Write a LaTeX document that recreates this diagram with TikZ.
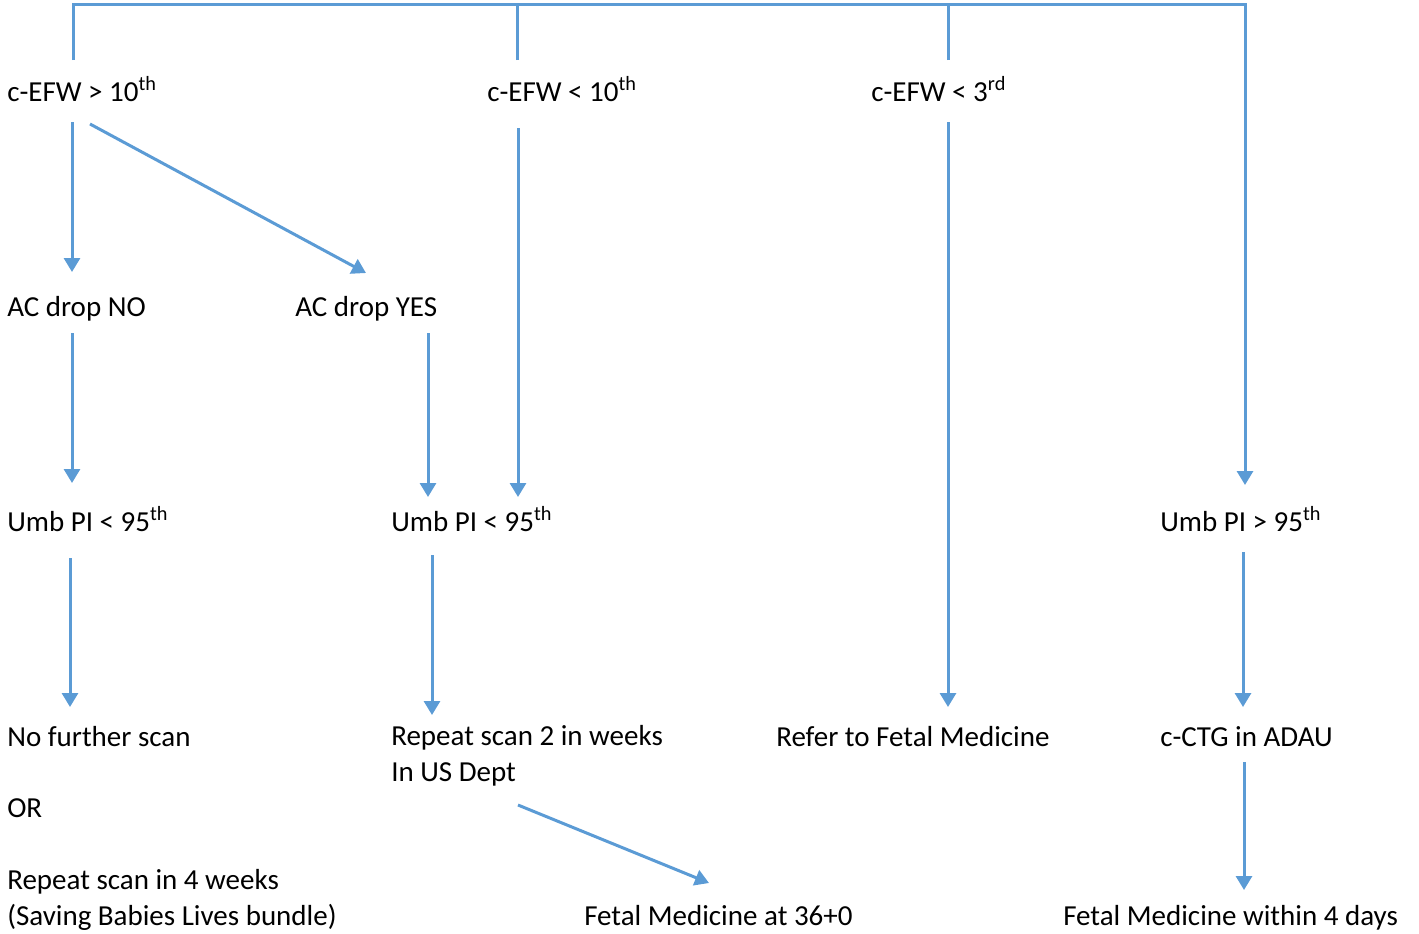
\documentclass[tikz,border=0pt]{standalone}
\usepackage{fontspec}
\setmainfont{Carlito}
\usetikzlibrary{arrows.meta,calc}
\definecolor{flowblue}{RGB}{91,155,213}
\begin{document}
\begin{tikzpicture}[x=0.75pt,y=0.75pt,yscale=-1,xscale=1,
  lbl/.style={anchor=base west,inner sep=0pt,align=left,font=\fontsize{21.75}{26.7}\selectfont},
  line/.style={draw=flowblue,line width=2.25pt},
  arr/.style={line,-{Triangle[width=12pt,length=10.5pt]}}]
\useasboundingbox (0,0) rectangle (1419,933);

% Text Nodes
\node[lbl] (efwA) at (7,101) {c-EFW > 10\textsuperscript{th}};
\node[lbl] (efwB) at (487,101) {c-EFW < 10\textsuperscript{th}};
\node[lbl] (efwC) at (871,101) {c-EFW < 3\textsuperscript{rd}};
\node[lbl] (acno) at (7,316) {AC drop NO};
\node[lbl] (acyes) at (295,316) {AC drop YES};
\node[lbl] (umbA) at (7,531) {Umb PI < 95\textsuperscript{th}};
\node[lbl] (umbB) at (391,531) {Umb PI < 95\textsuperscript{th}};
\node[lbl] (umbC) at (1160,531) {Umb PI > 95\textsuperscript{th}};
\node[lbl] (nofurther) at (7,746) {No further scan};
\node[lbl] (orr) at (7,817) {OR};
% base of a two-line node is its last line
\node[lbl] (repeatA) at (7,925) {Repeat scan in 4 weeks\\(Saving Babies Lives bundle)};
\node[lbl] (repeatB) at (391,781) {Repeat scan 2 in weeks\\In US Dept};
\node[lbl] (refer) at (776,746) {Refer to Fetal Medicine};
\node[lbl] (ctg) at (1160,746) {c-CTG in ADAU};
\node[lbl] (fm36) at (584,925) {Fetal Medicine at 36+0};
\node[lbl] (fm4d) at (1063,925) {Fetal Medicine within 4 days};

% top bracket
\coordinate (bar) at (0,4);
\draw[arr] ($(efwA.base west)+(66,-41)$) coordinate (a0) -- (a0 |- bar) -| ($(umbC.base west)+(85,-46)$);
\draw[line] ($(efwB.base west)+(30,-41)$) coordinate (b0) -- ([yshift=-1.1pt]b0 |- bar);
\draw[line] ($(efwC.base west)+(77,-41)$) coordinate (c0) -- ([yshift=-1.1pt]c0 |- bar);

% Arrows
\draw[arr] ($(efwA.base west)+(65,21)$) -- ($(acno.base west)+(65,-44)$);
\draw[arr] ($(efwA.base west)+(83,23)$) -- ($(acyes.base west)+(71,-43)$);
\draw[arr] ($(efwB.base west)+(31,27)$) -- ($(umbB.base west)+(127,-34)$);
\draw[arr] ($(efwC.base west)+(77,21)$) -- ($(refer.base west)+(172,-39)$);
\draw[arr] ($(acno.base west)+(65,17)$) -- ($(umbA.base west)+(65,-48)$);
\draw[arr] ($(acyes.base west)+(133,17)$) -- ($(umbB.base west)+(37,-34)$);
\draw[arr] ($(umbA.base west)+(63,27)$) -- ($(nofurther.base west)+(63,-39)$);
\draw[arr] ($(umbB.base west)+(41,24)$) -- ($(repeatB.base west)+(41,-66)$);
\draw[arr] ($(umbC.base west)+(83,21)$) -- ($(ctg.base west)+(83,-39)$);
\draw[arr] ($(repeatB.base west)+(127,24)$) -- ($(fm36.base west)+(125,-42)$);
\draw[arr] ($(ctg.base west)+(84,16)$) -- ($(fm4d.base west)+(181,-35)$);
\end{tikzpicture}
\end{document}
